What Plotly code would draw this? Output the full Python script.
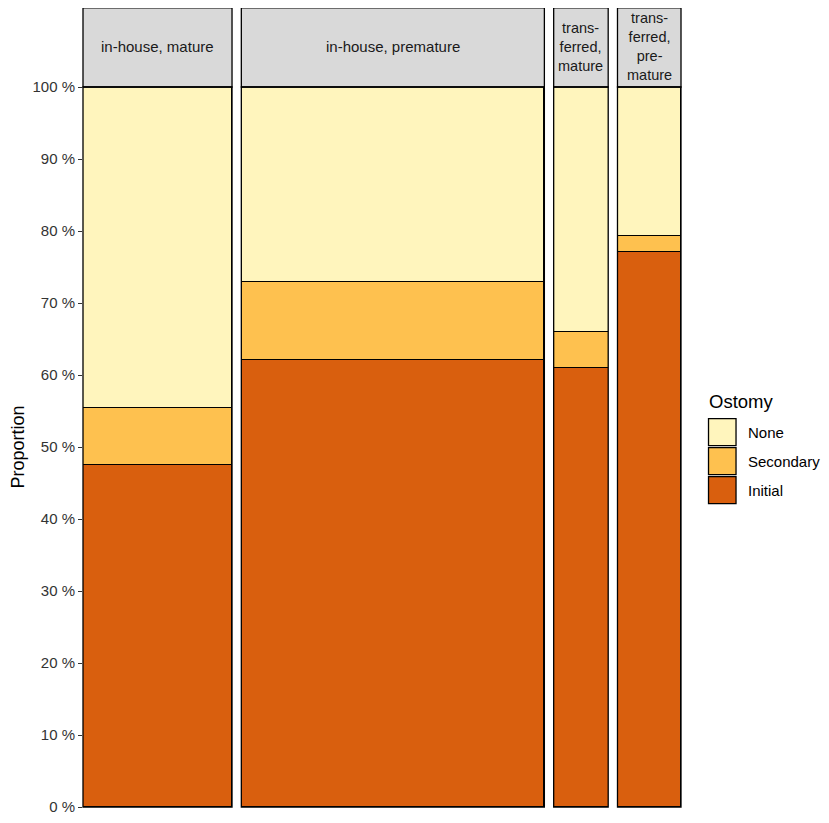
import plotly.graph_objects as go
from plotly.subplots import make_subplots

# facet labels and relative widths (facet width ~ group size)
groups = ["in-house, mature", "in-house, premature", "transferred, mature", "transferred, premature"]
strip_labels = ["in-house, mature", "in-house, premature", "trans-<br>ferred,<br>mature", "trans-<br>ferred,<br>pre-<br>mature"]
group_widths = [149, 303, 54.5, 63.5]

# proportions per ostomy type (%), stacked bottom to top
ostomy_types = ["Initial", "Secondary", "None"]
initial = [47.5, 62.1, 61.0, 77.1]
secondary = [7.9, 10.8, 5.0, 2.2]
none = [44.6, 27.1, 34.0, 20.7]
colors = {"None": "#FFF5BD", "Secondary": "#FEC14F", "Initial": "#D95F0E"}

y_ticks = list(range(0, 101, 10))
y_ticktext = [f"{v} %" for v in y_ticks]

# page body has an 8px margin, so the figure is shifted by that much
OFF = 8
W, H = 829 - 2 * OFF, 823 - OFF
L, T = 83.3 - OFF, 87 - OFF
plot_w = 681 - 83.3
plot_h = 806.7 - 87
R = W - L - plot_w
B = H - T - plot_h
gap = 9.3

fig = make_subplots(rows=1, cols=4, column_widths=group_widths,
                    horizontal_spacing=gap / plot_w, shared_yaxes=True)

values = {"Initial": initial, "Secondary": secondary, "None": none}
for i, g in enumerate(groups):
    for t in ostomy_types:
        fig.add_trace(go.Bar(x=[g], y=[values[t][i]], width=1, name=t,
                             marker=dict(color=colors[t], line=dict(color="black", width=1)),
                             showlegend=False, hoverinfo="y+name"), row=1, col=i + 1)
    xname = "x" if i == 0 else f"x{i + 1}"
    # strip box above each panel
    fig.add_shape(type="rect", xref=f"{xname} domain", yref="y domain",
                  x0=0, x1=1, y0=1, y1=1 + 79 / plot_h,
                  fillcolor="#D9D9D9", line=dict(color="black", width=1.3))
    # panel border
    fig.add_shape(type="rect", xref=f"{xname} domain", yref="y domain",
                  x0=0, x1=1, y0=0, y1=1, line=dict(color="black", width=1.3))
    fig.add_annotation(text=strip_labels[i], xref=f"{xname} domain", yref="y domain",
                       x=0.5, y=1 + 40 / plot_h, showarrow=False,
                       font=dict(size=15 if i < 2 else 14.5, color="#1A1A1A"), yanchor="middle")
    fig.update_xaxes(row=1, col=i + 1, showticklabels=False, showgrid=False,
                     zeroline=False, range=[-0.5, 0.5], fixedrange=True)

fig.update_yaxes(range=[0, 100], showgrid=False, zeroline=False, ticks="")
fig.update_yaxes(row=1, col=1, tickvals=y_ticks, ticktext=y_ticktext, showticklabels=True,
                 ticks="outside", ticklen=4, tickcolor="#333333",
                 tickfont=dict(size=15, color="#333333"),
                 title=dict(text="Proportion", font=dict(size=18, color="black"), standoff=8))


def px(xp, yp):
    # reference pixel position -> paper coords
    return (xp - OFF - L) / plot_w, (H - B - (yp - OFF)) / plot_h


# legend drawn by hand to get ggplot-sized keys
tx, ty = px(707, 401)
fig.add_annotation(text="Ostomy", xref="paper", yref="paper", x=tx, y=ty,
                   xanchor="left", yanchor="middle", showarrow=False,
                   font=dict(size=18.5, color="black"))
for k, t in enumerate(["None", "Secondary", "Initial"]):
    top = 418.5 + 29 * k
    x0, y1 = px(708.5, top)
    x1, y0 = px(736, top + 27)
    fig.add_shape(type="rect", xref="paper", yref="paper", x0=x0, x1=x1, y0=y0, y1=y1,
                  fillcolor=colors[t], line=dict(color="black", width=1.3))
    lx, ly = px(745.5, top + 13.5)
    fig.add_annotation(text=t, xref="paper", yref="paper", x=lx, y=ly,
                       xanchor="left", yanchor="middle", showarrow=False,
                       font=dict(size=15, color="black"))

fig.update_layout(width=W, height=H, barmode="stack", bargap=0,
                  margin=dict(l=L, r=R, t=T, b=B, autoexpand=False),
                  plot_bgcolor="white", paper_bgcolor="white",
                  font=dict(family="Liberation Sans, Arial, sans-serif"),
                  showlegend=False)

fig.write_html("out.html")
